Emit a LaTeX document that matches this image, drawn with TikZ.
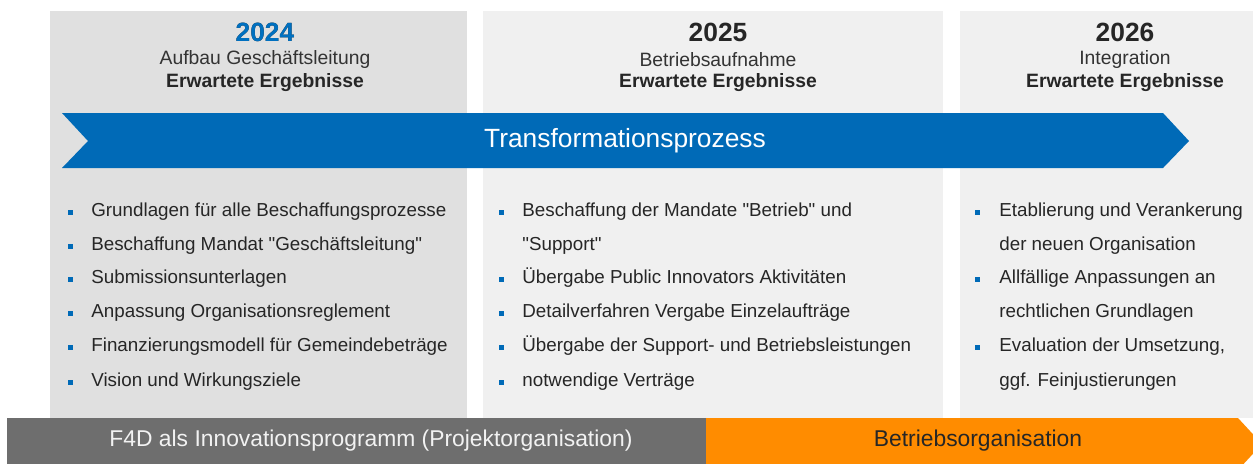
\documentclass[tikz,border=0pt]{standalone}
\usepackage{fontspec}
\setmainfont{Liberation Sans}[Ligatures=TeXOff]
\definecolor{f4dblue}{RGB}{0,106,183}
\definecolor{yearblue}{RGB}{0,112,192}
\definecolor{f4dorange}{RGB}{255,140,0}
\begin{document}
\begin{tikzpicture}[x=0.02cm,y=-0.02cm]
	\tikzstyle{darkcol}=[fill=black!12]
	\tikzstyle{lightcol}=[fill=black!6]
	\tikzstyle{year}=[font=\fontsize{15}{17}\selectfont\bfseries,text=black!85]
	\tikzstyle{phase}=[font=\fontsize{11}{13}\selectfont,text=black!80]
	\tikzstyle{result}=[font=\fontsize{11}{13}\selectfont\bfseries,text=black!85]
	\tikzstyle{item}=[anchor=west,inner sep=0pt,text height=7pt,text depth=2pt,font=\fontsize{10.7}{12}\selectfont,text=black!85]
	\tikzstyle{bullet}=[fill=f4dblue,shape=rectangle,minimum size=0.1cm,inner sep=0pt]
	\tikzstyle{bar}=[font=\fontsize{13}{15}\selectfont]

	\useasboundingbox (0,0) rectangle (1253,463);
	\clip (0,0) rectangle (1253,463);
	\fill[white] (0,0) rectangle (1253,463);

	% three year columns
	\fill[darkcol] (50,11) rectangle (467,418);
	\fill[lightcol] (483,11) rectangle (943,418);
	\fill[lightcol] (960,11) rectangle (1253,418);

	\foreach \x / \y / \p in {265/2024/Aufbau Geschäftsleitung,718/2025/Betriebsaufnahme,1125/2026/Integration} {
		\node[year] (y\y) at (\x,32) {\y};
		\node[phase] (p\y) at (\x,60) {\p};
		\node[result] (r\y) at (\x,83) {Erwartete Ergebnisse};
	}
	\node[year,text=yearblue] at (y2024) {2024};

	% process arrow
	\fill[f4dblue] (62,113) -- (1163,113) -- (1189,141) -- (1163,168) -- (62,168) -- (88,141) -- cycle;
	\node[text=white,font=\fontsize{15}{17}\selectfont] (trans) at (625,141) {Transformationsprozess};

	% results 2024
	\foreach \y / \z / \t in {212/1/Grundlagen für alle Beschaffungsprozesse,246/2/Beschaffung Mandat "Geschäftsleitung",279/3/Submissionsunterlagen,313/4/Anpassung Organisationsreglement,347/5/Finanzierungsmodell für Gemeindebeträge,382/6/Vision und Wirkungsziele} {
		\node[bullet] (ab\z) at (70,\y) {};
		\node[item] (a\z) at (91,\y) {\t};
	}

	% results 2025
	\foreach \y / \z / \t in {212/1/Beschaffung der Mandate "Betrieb" und,246/2/"Support",279/3/Übergabe Public Innovators Aktivitäten,313/4/Detailverfahren Vergabe Einzelaufträge,347/5/Übergabe der Support- und Betriebsleistungen,382/6/notwendige Verträge} {
		\node[item] (b\z) at (522,\y) {\t};
	}
	\foreach \z / \y in {1/212,3/279,4/313,5/347,6/382} {\node[bullet] (bb\z) at (501,\y) {}; }

	% results 2026
	\foreach \y / \z / \t in {212/1/Etablierung und Verankerung,246/2/der neuen Organisation,279/3/Allfällige Anpassungen an,313/4/rechtlichen Grundlagen,347/5/{Evaluation der Umsetzung,},382/6/ggf. Feinjustierungen} {
		\node[item] (c\z) at (999,\y) {\t};
	}
	\foreach \z / \y in {1/212,3/279,5/347} {\node[bullet] (cb\z) at (977,\y) {}; }

	% organisation bar
	\fill[black!57] (7,418) rectangle (706,470);
	\fill[f4dorange] (706,418) -- (1238,418) -- (1262,444) -- (1238,470) -- (706,470) -- cycle;
	\node[bar,text=black!5] (proj) at (371,441) {F4D als Innovationsprogramm (Projektorganisation)};
	\node[bar,text=black!85] (betr) at (978,441) {Betriebsorganisation};

\end{tikzpicture}
\end{document}
